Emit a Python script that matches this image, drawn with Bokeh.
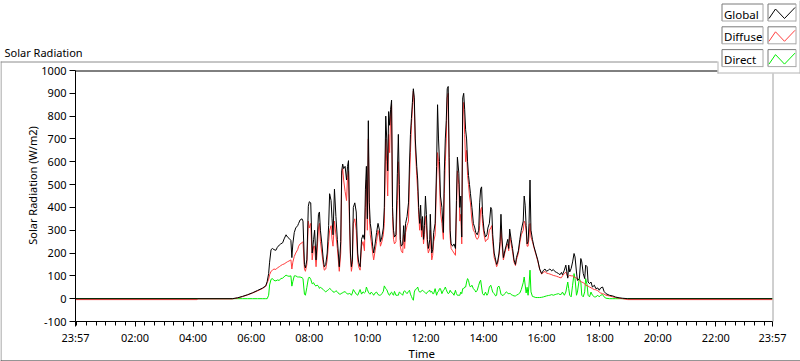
from math import pi
from bokeh.plotting import figure
from bokeh.models import FixedTicker, Range1d
from bokeh.core.properties import value
from bokeh.embed import file_html
from bokeh.resources import INLINE

# ---------------- data (time in minutes after midnight; W/m2) ----------------
time_min = [
    -3, 248, 250, 321,
    332, 342, 352, 363, 373, 383, 390, 393, 396, 398, 401, 404, 407, 411, 414, 418,
    421, 425, 428, 432, 435, 438, 442, 444, 446, 449, 452, 456,
    458, 461, 465, 467, 470, 472, 475, 478, 480, 483, 486, 489, 491, 494, 496, 499,
    501, 503, 506, 509, 511, 514, 517, 520, 522, 525, 527, 529, 532, 535, 538, 540,
    542, 545, 547, 549, 551, 554, 557, 559, 561, 563, 565, 567, 569, 571, 574, 577,
    580, 582, 585, 588, 591, 594,
    596, 598, 600, 602, 604, 606, 608, 611, 613, 616, 619, 622, 625, 627, 630, 633,
    635, 638, 640, 642, 644, 646, 648, 650, 652, 654, 656, 659, 662, 664, 666, 668,
    670, 673, 675, 677, 679, 682, 685, 687, 689, 691, 693, 695, 697, 699, 702, 704,
    706, 708, 710, 712, 714, 716, 718, 720, 722, 724, 726, 729,
    730, 733, 735, 737, 740, 743, 745, 747, 749, 751, 754, 757, 759, 761, 763, 765,
    767, 769, 771, 773, 776, 779, 782, 784, 786, 789, 791, 793, 795, 797, 799, 801,
    803, 805, 807, 809, 811, 813, 816, 819, 822, 824, 827, 830, 832, 834, 836, 838,
    841, 844, 847, 849, 852, 855, 857, 859, 862, 865, 867,
    869, 872, 874, 876, 878, 881, 884, 887, 890, 892, 894, 897, 900, 903, 906, 908,
    912, 915, 918, 922, 924, 926, 928, 930, 932, 934, 936, 938, 941, 944, 948, 952,
    956, 960, 964, 967, 970, 974, 977, 981, 984, 988, 991, 995, 998, 1001,
    1003, 1007, 1010, 1014, 1016, 1018, 1021, 1024, 1027, 1029, 1032, 1034, 1038, 1041,
    1043, 1046, 1049, 1051, 1054, 1056, 1059, 1062, 1065, 1069, 1072, 1076, 1079, 1082,
    1086, 1089, 1093, 1100, 1107, 1113, 1120, 1127, 1138, 1437,
]

global_wm2 = [
    0, 0, 0, 0,
    4, 10, 17, 26, 36, 46, 56, 75, 110, 160, 215, 220, 215, 212, 225, 235,
    240, 245, 262, 280, 270, 265, 255, 180, 240, 290, 310, 320,
    330, 345, 350, 340, 150, 135, 170, 405, 425, 420, 200, 260, 300, 170, 240, 370,
    380, 300, 240, 170, 140, 150, 200, 320, 460, 430, 350, 280, 480, 360, 260, 200,
    140, 250, 560, 590, 570, 580, 520, 580, 605, 380, 200, 140, 170, 400, 420, 380,
    200, 160, 140, 260, 280, 260,
    480, 580, 350, 780, 420, 330, 300, 230, 200, 240, 290, 330, 300, 250, 270, 310,
    400, 800, 700, 560, 820, 760, 830, 870, 400, 300, 270, 280, 550, 720, 500, 260,
    230, 240, 320, 250, 330, 360, 420, 590, 720, 790, 860, 920, 880, 700, 580, 520,
    400, 330, 410, 300, 360, 260, 320, 450, 370, 260, 220, 260,
    370, 200, 215, 290, 330, 580, 850, 700, 600, 450, 400, 290, 560, 700, 780, 920,
    930, 620, 300, 240, 230, 240, 220, 430, 620, 550, 400, 450, 270, 880, 900, 830,
    740, 700, 600, 540, 500, 460, 400, 330, 310, 290, 280, 300, 420, 480, 490, 370,
    300, 270, 280, 310, 330, 400, 390, 280, 200, 170, 150,
    160, 200, 250, 370, 270, 180, 210, 235, 260, 220, 305, 260, 220, 170, 150, 180,
    210, 260, 300, 340, 450, 410, 320, 240, 250, 330, 520, 300, 260, 230, 200, 170,
    130, 110, 125, 130, 120, 125, 130, 122, 128, 118, 115, 110, 105, 115,
    105, 125, 147, 90, 147, 117, 132, 161, 198, 183, 117, 80, 88, 176,
    161, 110, 88, 147, 140, 73, 66, 73, 51, 59, 44, 47, 37, 47,
    51, 32, 22, 15, 12, 7, 4, 2, 0, 0,
]

diffuse_wm2 = [
    -4, -4, -1, -1,
    3, 9, 16, 25, 34, 44, 54, 70, 85, 105, 120, 125, 130, 128, 135, 140,
    145, 150, 152, 158, 162, 165, 170, 130, 160, 185, 200, 215,
    230, 240, 245, 250, 130, 120, 150, 340, 310, 330, 170, 230, 230, 140, 200, 310,
    330, 250, 200, 150, 125, 130, 170, 250, 300, 320, 260, 230, 340, 280, 220, 170,
    120, 200, 540, 570, 520, 470, 430, 530, 560, 330, 180, 120, 150, 330, 350, 300,
    170, 140, 125, 230, 250, 210,
    400, 520, 300, 700, 370, 280, 250, 200, 170, 210, 250, 300, 270, 230, 250, 280,
    330, 700, 600, 450, 720, 640, 800, 850, 360, 260, 240, 250, 430, 600, 420, 230,
    210, 200, 280, 220, 290, 320, 340, 520, 640, 760, 830, 910, 850, 660, 540, 470,
    370, 300, 350, 270, 320, 240, 280, 360, 320, 230, 200, 220,
    300, 170, 190, 250, 280, 520, 640, 600, 520, 380, 330, 260, 460, 600, 700, 880,
    900, 550, 270, 220, 210, 200, 190, 380, 560, 500, 340, 370, 240, 800, 860, 720,
    600, 650, 540, 500, 450, 420, 340, 300, 290, 270, 260, 270, 320, 390, 400, 330,
    280, 250, 260, 260, 300, 310, 320, 250, 180, 160, 140,
    150, 190, 230, 310, 240, 170, 200, 225, 240, 210, 280, 240, 205, 160, 145, 170,
    200, 245, 280, 300, 340, 330, 300, 230, 230, 270, 330, 270, 250, 225, 195, 165,
    128, 108, 115, 120, 112, 110, 108, 105, 102, 100, 98, 95, 92, 92,
    100, 110, 117, 95, 100, 102, 100, 100, 95, 93, 90, 88, 80, 75,
    73, 70, 66, 59, 57, 55, 51, 48, 44, 40, 39, 35, 29, 25,
    22, 20, 15, 12, 8, 5, 2, 0, -4, -4,
]

direct_wm2 = [
    0, 0, 0, 0,
    0, 0, 0, 0, 0, 0, 0, 0, 15, 60, 85, 88, 80, 78, 82, 80,
    88, 90, 96, 103, 100, 98, 100, 55, 75, 100, 100, 95,
    95, 95, 92, 88, 20, 15, 50, 88, 95, 85, 65, 70, 60, 55, 60, 55,
    45, 50, 45, 40, 35, 30, 35, 40, 45, 40, 35, 30, 28, 35, 30, 25,
    20, 20, 25, 25, 30, 30, 25, 20, 20, 25, 20, 15, 25, 40, 30, 20,
    15, 25, 40, 20, 30, 25,
    29, 51, 40, 29, 22, 20, 29, 22, 15, 25, 29, 18, 15, 15, 22, 32,
    56, 44, 40, 29, 18, 15, 25, 29, 20, 15, 32, 15, 15, 15, 29, 25,
    22, 15, 30, 35, 29, 22, 32, 37, 20, 10, 0, -7, 29, 40, 44, 51,
    35, 29, 29, 35, 37, 32, 29, 25, 22, 29, 32, 37,
    29, 32, 22, 22, 44, 15, 29, 32, 44, 44, 22, 37, 40, 51, 40, 29,
    22, 25, 37, 29, 25, 15, 37, 22, 15, 15, 15, 29, 22, 44, 44, 51,
    51, 73, 88, 80, 59, 51, 59, 44, 37, 29, 37, 59, 73, 81, 51, 22,
    15, 29, 15, 22, 51, 59, 44, 29, 22, 12, 15,
    50, 55, 40, 20, 15, 15, 22, 30, 25, 20, 25, 18, 15, 12, 12, 15,
    20, 25, 40, 70, 95, 60, 25, 50, 15, 60, 125, 30, 10, 8, 5, 5,
    5, 6, 8, 10, 12, 14, 15, 18, 15, 18, 20, 22, 18, 20,
    29, 15, 29, 73, 44, 15, 8, 59, 110, 88, 15, 29, 88, 73,
    15, 8, 30, 88, 60, 15, 8, 29, 15, 8, 8, 15, 8, 15,
    18, 8, 2, 0, 0, 0, 0, 0, 0, 0,
]

series_names = ["Global", "Diffuse", "Direct"]
series_colors = ["#000000", "#ff3d3d", "#00ee00"]

x_major_ticks = [-3, 120, 240, 360, 480, 600, 720, 840, 960, 1080, 1200, 1320, 1437]
x_major_labels = ["23:57", "02:00", "04:00", "06:00", "08:00", "10:00", "12:00",
                  "14:00", "16:00", "18:00", "20:00", "22:00", "23:57"]
x_minor_ticks = list(range(0, 1437, 20))
y_ticks = [-100, 0, 100, 200, 300, 400, 500, 600, 700, 800, 900, 1000]

chart_title = "Solar Radiation"
y_label = "Solar Radiation (W/m2)"
x_label = "Time"

# ---------------- layout constants (pixels) ----------------
W, H = 800, 361
FL, FT, FR, FB = 75, 70, 772, 321
FONT = "Noto Sans"

# ---------- background figure: frame covers the whole canvas, pixel coordinates ----------
bg = figure(width=W, height=H, output_backend="svg", toolbar_location=None,
            x_range=Range1d(0, W), y_range=Range1d(0, H), title=None,
            x_axis_location=None, y_axis_location=None,
            min_border_left=0, min_border_right=0, min_border_top=0, min_border_bottom=0)
bg.grid.visible = False
bg.outline_line_color = None
bg.background_fill_color = "white"
bg.border_fill_color = "white"

segs = {"x0": [], "y0": [], "x1": [], "y1": [], "c": []}


def seg(x0, y0, x1, y1, color):
    segs["x0"].append(x0)
    segs["y0"].append(H - y0)
    segs["x1"].append(x1)
    segs["y1"].append(H - y1)
    segs["c"].append(color)


# outer frame
seg(0, 61.5, 717, 61.5, "#8c8c8c")
seg(0.5, 61, 0.5, 361, "#8c8c8c")
seg(0, 360.5, 800, 360.5, "#2a2a2a")
# plot top / right borders
seg(75, 70.5, 717, 70.5, "#000000")
seg(772.5, 73, 772.5, FB, "#a0a0a0")
# legend panel
seg(717, 72.5, 800, 72.5, "#b4b4b4")
seg(717.5, 61, 717.5, 73, "#b4b4b4")
seg(799.5, 0, 799.5, 73, "#b4b4b4")


def box(x0, y0, x1, y1):
    seg(x0, y0, x1, y0, "#7a7a7a")
    seg(x0, y0, x0, y1, "#7a7a7a")
    seg(x0, y1, x1, y1, "#a8a8a8")
    seg(x1, y0, x1, y1 + 0.5, "#a8a8a8")


TXT_DY = 3.5  # text glyphs render slightly low; compensate

leg_text_x, leg_text_y = [], []
for i, (name, col) in enumerate(zip(series_names, series_colors)):
    yt = 3.5 + 22.8 * i
    box(721.5, yt, 762.5, yt + 17)
    box(767.5, yt, 795.5, yt + 17)
    leg_text_x.append(723.5)
    leg_text_y.append(H - (yt + 13.5 - TXT_DY))
    pts = [(768.5, yt + 14.5), (775, yt + 5), (784, yt + 14.5), (794.5, yt + 3.5)]
    for (ax0, ay0), (ax1, ay1) in zip(pts[:-1], pts[1:]):
        seg(ax0, ay0, ax1, ay1, col)

bg.segment(x0=segs["x0"], y0=segs["y0"], x1=segs["x1"], y1=segs["y1"],
           line_color=segs["c"], line_width=1)

bg.text(x=leg_text_x, y=leg_text_y, text=series_names, text_font=value(FONT),
        text_font_size=value("11.5px"), text_color="black",
        text_align="left", text_baseline="alphabetic")
bg.text(x=[4], y=[H - (55 - TXT_DY)], text=[chart_title], text_font=value(FONT),
        text_font_size=value("11px"), text_color="black",
        text_align="left", text_baseline="alphabetic")
bg.text(x=[408], y=[H - (356.5 - TXT_DY)], text=[x_label], text_font=value(FONT),
        text_font_size=value("11.5px"), text_color="black",
        text_align="left", text_baseline="alphabetic")
bg.text(x=[32], y=[H - 185], text=[y_label], text_font=value(FONT),
        text_font_size=value("11px"), text_color="black", angle=pi / 2,
        text_align="center", text_baseline="middle")

# ---------- foreground chart (transparent, overlaid on the background) ----------
p = figure(width=W, height=H, output_backend="svg", toolbar_location=None,
           x_range=Range1d(-3, 1437), y_range=Range1d(-100, 1000), title=None,
           min_border_left=FL, min_border_right=W - FR,
           min_border_top=FT, min_border_bottom=H - FB)
p.styles = {"margin-top": f"-{H}px"}
p.outline_line_color = None
p.grid.visible = False
p.background_fill_alpha = 0
p.border_fill_alpha = 0

xa = p.xaxis[0]
xa.ticker = FixedTicker(ticks=x_major_ticks, minor_ticks=x_minor_ticks)
xa.major_label_overrides = {t: s for t, s in zip(x_major_ticks, x_major_labels)}
ya = p.yaxis[0]
ya.ticker = FixedTicker(ticks=y_ticks, minor_ticks=[])
ya.major_label_overrides = {v: str(v) for v in y_ticks}

for ax in (xa, ya):
    ax.axis_line_color = "black"
    ax.axis_line_width = 1
    ax.major_tick_line_color = "black"
    ax.minor_tick_line_color = "black"
    ax.major_tick_in = 0
    ax.minor_tick_in = 0
    ax.major_label_text_font = FONT
    ax.major_label_text_font_size = "11px"
    ax.major_label_text_color = "#000000"
    ax.major_label_standoff = 3
xa.major_tick_out = 5
xa.minor_tick_out = 4
ya.major_tick_out = 6

# lines: direct first, then diffuse, then global on top
p.line(time_min, direct_wm2, line_color=series_colors[2], line_width=1)
p.line(time_min, diffuse_wm2, line_color=series_colors[1], line_width=1)
p.line(time_min, global_wm2, line_color=series_colors[0], line_width=1)

open("out.html", "w").write(file_html([bg, p], INLINE))
